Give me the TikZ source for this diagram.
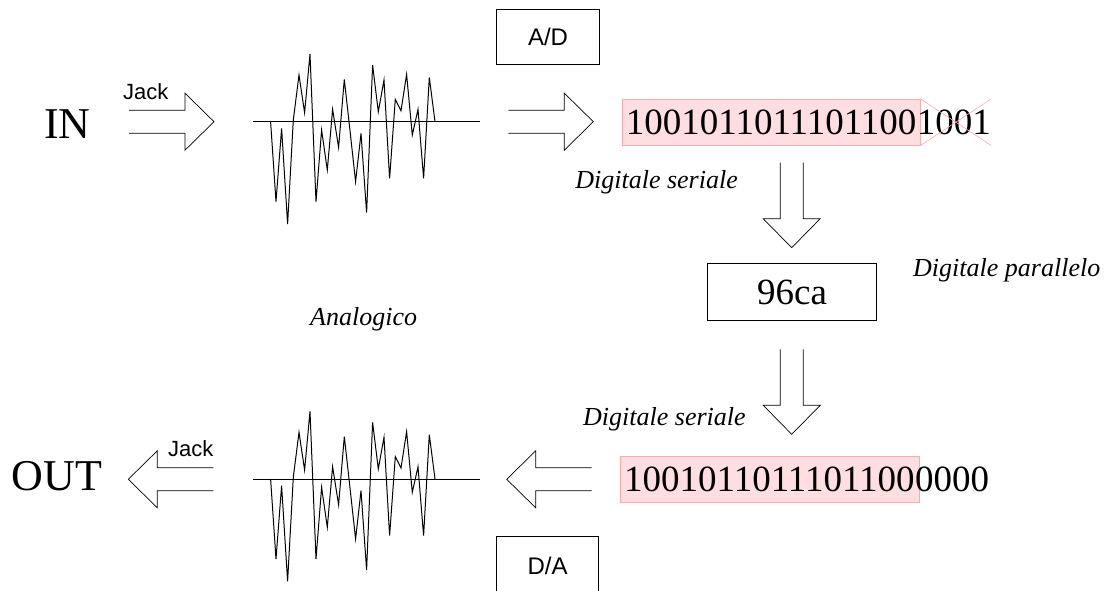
\documentclass[tikz,border=0pt]{standalone}
\usepackage{fontspec}
\setmainfont{Liberation Serif}
\setsansfont{Liberation Sans}
\definecolor{serfill}{RGB}{255,222,225}
\definecolor{serdraw}{RGB}{255,170,170}

\begin{document}
\begin{tikzpicture}[
            x=1pt,y=-1pt,
            big/.style={inner sep=0pt,font=\fontsize{44}{48}\selectfont},
            bits/.style={font=\fontsize{37}{40}\selectfont},
            serbox/.style={fill=serfill,draw=serdraw,inner xsep=4pt,minimum height=46pt},
            serline/.style={serdraw,line width=0.6pt},
            lbl/.style={inner sep=0pt,font=\fontsize{26}{28}\selectfont\itshape},
            jacklbl/.style={inner sep=0pt,font=\sffamily\fontsize{22}{24}\selectfont},
            conv/.style={draw,line width=0.8pt,minimum width=102.6pt,minimum height=55.3pt,
                font=\sffamily\fontsize{24}{26}\selectfont},
            openarrow/.pic={
                \draw[line width=0.7pt] (0,-11.5) -- (56,-11.5) -- (56,-28.5) -- (85,0)
                    -- (56,28.5) -- (56,11.5) -- (0,11.5);
            },
            wave/.pic={
                \draw[line width=1pt] (0,0) -- (226.7,0);
                \draw[line width=1pt] (17.3,0) -- (22.7,80) -- (28.3,6.7) -- (34.3,102.3)
                    -- (40,-1.7) -- (45.7,-46.7) -- (51.3,-9) -- (56.7,-67.7) -- (62.7,80)
                    -- (68.3,8.3) -- (74,48.3) -- (79.3,-12.3) -- (85.3,25.7) -- (91,-42.3)
                    -- (96.7,9) -- (102.3,60) -- (107.7,11.7) -- (113.3,91) -- (119.3,-56.7)
                    -- (125,-10) -- (130.7,-41.7) -- (136.3,56.7) -- (142,-22.3) -- (147.7,-11)
                    -- (153.3,-47.3) -- (159,13.3) -- (164.7,-12.3) -- (170.3,56.7)
                    -- (176,-44.3) -- (181.7,0);
            }
        ]
            \useasboundingbox (0,0) rectangle (1114,591);

            % analog signals
            \foreach \y in {121.7,479}
                \pic at (253.3,\y) {wave};
            \node (ana) [lbl,anchor=base west] at (310,325) {Analogico};

            % input side
            \node (in) [big,anchor=base west] at (44,139) {IN};
            \node (jackin) [jacklbl,anchor=base west] at (123,100) {Jack};
            \pic at (129,121.7) {openarrow};
            \node (ad) [conv] at (548,36.7) {A/D};
            \pic at (508.3,121.7) {openarrow};

            \node (bitsin) [bits,serbox,anchor=west] at (621.7,122.2) {1001011011101100};
            \node (restin) [bits,inner sep=0pt,anchor=base west]
                at ([xshift=-4pt]bitsin.base east) {1001};
            \draw[serline] (bitsin.north east) -- (bitsin.south -| restin.east);
            \draw[serline] (bitsin.south east) -- (bitsin.north -| restin.east);
            \node (serin) [lbl,anchor=base east] at (738,188) {Digitale seriale};

            % parallel word
            \pic[rotate=-90] at (791.7,162.7) {openarrow};
            \node (word) [conv,bits,minimum width=169.4pt,minimum height=57pt] at (792,292) {96ca};
            \node (par) [lbl,anchor=base west] at (913,276.7) {Digitale parallelo};
            \pic[rotate=-90] at (791.7,349.3) {openarrow};

            % output side
            \node (serout) [lbl,anchor=base west] at (583,425) {Digitale seriale};
            \node (bitsout) [bits,serbox,anchor=west] at (620,479.2) {1001011011101100};
            \node (restout) [bits,inner sep=0pt,anchor=base west]
                at ([xshift=-4pt]bitsout.base east) {0000};
            \pic[rotate=180] at (591.7,479.3) {openarrow};
            \node (da) [conv,minimum height=60pt,anchor=north] at (547.5,536) {D/A};

            \pic[rotate=180] at (213.3,479.3) {openarrow};
            \node (jackout) [jacklbl,anchor=base west] at (168,456.7) {Jack};
            \node (out) [big,anchor=base west] at (11.7,490.7) {OUT};
        \end{tikzpicture}
\end{document}
